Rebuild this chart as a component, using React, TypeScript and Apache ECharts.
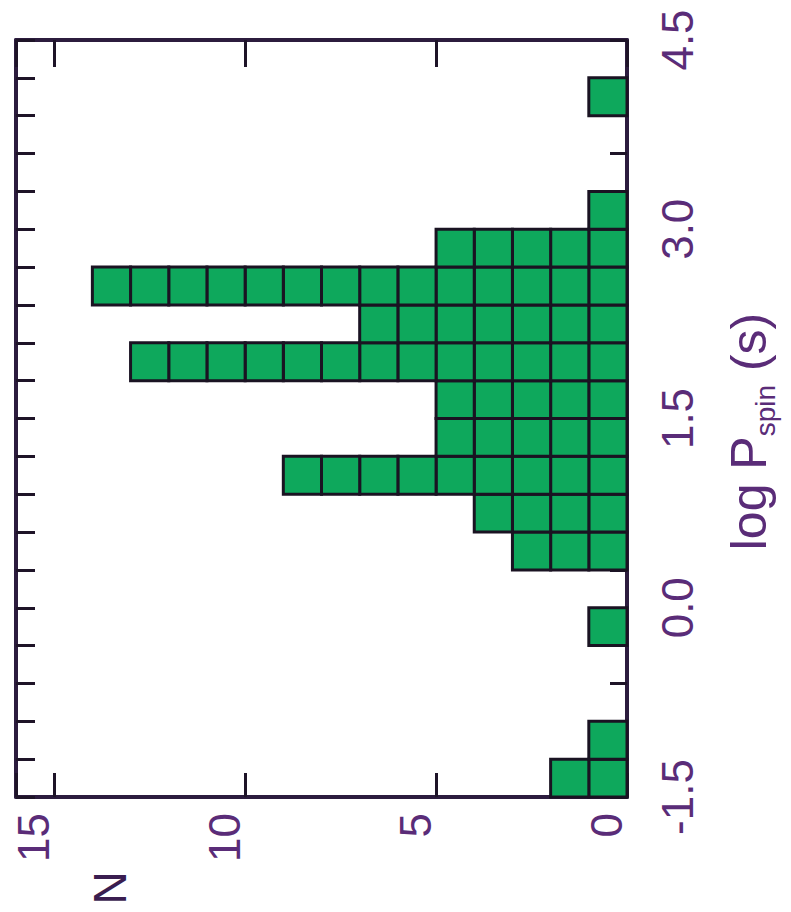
import { useEffect, useRef } from 'react';
import * as echarts from 'echarts';

// Histogram of log P_spin (s), bins of 0.3 starting at -1.5
const binStarts = [-1.5, -1.2, -0.9, -0.6, -0.3, 0.0, 0.3, 0.6, 0.9, 1.2, 1.5, 1.8, 2.1, 2.4, 2.7, 3.0, 3.3, 3.6, 3.9, 4.2];
const binWidth = 0.3;
const counts = [2, 1, 0, 0, 1, 0, 3, 4, 9, 5, 5, 13, 7, 14, 5, 1, 0, 0, 1, 0];
const nLabels = [0, 5, 10, 15];
const logPLabels = [-1.5, 0, 1.5, 3, 4.5];

const FRAME = '#2c1c3e';
const TICK = '#1e1428';
const LABEL = '#5a2c78';
const GREEN = '#0ea85c';
const FONT = '"Liberation Sans", Arial, sans-serif';

export default function App() {
  const ref = useRef<HTMLDivElement>(null);
  useEffect(() => {
    if (!ref.current) return;
    const chart = echarts.init(ref.current, null, { renderer: 'svg' });
    const data = binStarts
      .map((s, i) => [s, s + binWidth, counts[i]])
      .filter((d) => d[2] > 0);
    const option: any = {
      animation: false,
      backgroundColor: '#ffffff',
      grid: { left: 16, right: 164, top: 40, bottom: 115 },
      xAxis: [
        {
          type: 'value',
          position: 'bottom',
          inverse: true,
          min: 0,
          max: 16,
          interval: 5,
          splitLine: { show: false },
          axisLine: { show: true, onZero: false, lineStyle: { color: FRAME, width: 4 } },
          axisTick: { show: true, inside: true, length: 24, lineStyle: { color: TICK, width: 3 } },
          axisLabel: {
            show: true,
            rotate: 90,
            margin: 16,
            fontFamily: FONT,
            color: LABEL,
            formatter: (v: number) => (nLabels.includes(v) ? '{a|' + v + '}' : ''),
            rich: {
              a: { fontSize: 44, fontFamily: FONT, color: LABEL, lineHeight: 86, verticalAlign: 'top' },
            },
          },
        },
        {
          type: 'value',
          position: 'top',
          inverse: true,
          min: 0,
          max: 16,
          interval: 5,
          splitLine: { show: false },
          axisLine: { show: true, onZero: false, lineStyle: { color: FRAME, width: 4 } },
          axisTick: { show: true, inside: true, length: 27, lineStyle: { color: TICK, width: 3 } },
          axisLabel: { show: false },
        },
      ],
      yAxis: [
        {
          type: 'value',
          position: 'right',
          min: -1.5,
          max: 4.5,
          interval: 1.5,
          splitLine: { show: false },
          axisLine: { show: true, onZero: false, lineStyle: { color: FRAME, width: 4 } },
          axisTick: { show: true, inside: true, length: 17, lineStyle: { color: TICK, width: 3 } },
          minorTick: { show: true, splitNumber: 5, length: 17, lineStyle: { color: TICK, width: 3 } },
          axisLabel: {
            show: true,
            rotate: 90,
            margin: 28,
            fontSize: 44,
            fontFamily: FONT,
            color: LABEL,
            formatter: (v: number) => {
              const m = logPLabels.find((t) => Math.abs(t - v) < 1e-6);
              return m === undefined ? '' : m.toFixed(1);
            },
          },
          name: '{m|log P}{s|spin}{m| (s)}{e|}',
          nameLocation: 'middle',
          nameRotate: 90,
          nameGap: 92,
          nameTextStyle: {
            color: LABEL,
            fontFamily: FONT,
            rich: {
              m: { fontSize: 50, color: LABEL, fontFamily: FONT },
              s: { fontSize: 28, color: LABEL, fontFamily: FONT, verticalAlign: 'bottom', padding: [32, 0, 0, 0] },
              e: { width: 26, fontSize: 50 },
            },
          },
        },
        {
          type: 'value',
          position: 'left',
          min: -1.5,
          max: 4.5,
          interval: 1.5,
          splitLine: { show: false },
          axisLine: { show: true, onZero: false, lineStyle: { color: FRAME, width: 4 } },
          axisTick: { show: true, inside: true, length: 19, lineStyle: { color: TICK, width: 3 } },
          minorTick: { show: true, splitNumber: 5, length: 19, lineStyle: { color: TICK, width: 3 } },
          axisLabel: { show: false },
        },
      ],
      graphic: [
        {
          type: 'text',
          x: 110,
          y: 888,
          rotation: Math.PI / 2,
          style: {
            text: 'N',
            fontSize: 46,
            fontFamily: FONT,
            fill: '#3a1d50',
            textAlign: 'center',
            textVerticalAlign: 'middle',
          },
        },
      ],
      series: [
        {
          type: 'custom',
          xAxisIndex: 0,
          yAxisIndex: 0,
          encode: { x: 2, y: [0, 1] },
          data,
          renderItem: (params: any, api: any) => {
            const lo = api.value(0);
            const hi = api.value(1);
            const c = api.value(2);
            const children: any[] = [];
            for (let k = 0; k < c; k++) {
              const p1 = api.coord([k, hi]);
              const p2 = api.coord([k + 1, lo]);
              children.push({
                type: 'rect',
                shape: {
                  x: Math.min(p1[0], p2[0]),
                  y: Math.min(p1[1], p2[1]),
                  width: Math.abs(p2[0] - p1[0]),
                  height: Math.abs(p2[1] - p1[1]),
                },
                style: { fill: GREEN, stroke: '#1a1322', lineWidth: 3 },
              });
            }
            return { type: 'group', children };
          },
        },
      ],
    };
    chart.setOption(option);
    return () => chart.dispose();
  }, []);
  return (
    <div
      ref={ref}
      style={{ position: 'absolute', left: 0, top: 0, width: 791, height: 912, background: '#fff' }}
    />
  );
}
